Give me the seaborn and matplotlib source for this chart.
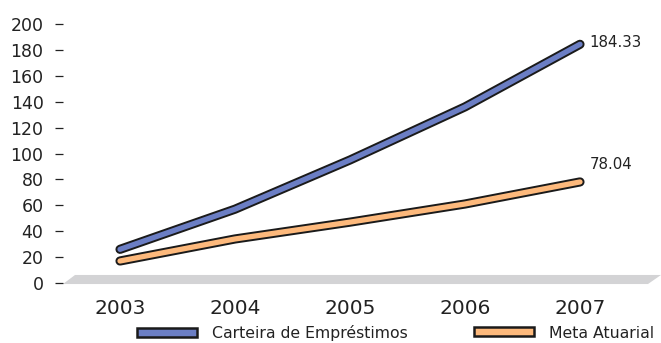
import matplotlib
matplotlib.use("Agg")
import matplotlib.pyplot as plt
import matplotlib.patheffects as pe
from matplotlib.patches import Patch, Polygon
import pandas as pd
import seaborn as sns

# Series values per year
years = [2003, 2004, 2005, 2006, 2007]
carteira = [26, 57, 95, 136, 184.33]
meta = [17, 34, 47, 61, 78.04]
series_names = ["Carteira de Empréstimos", "Meta Atuarial"]
series_colors = ["#6b7ec4", "#fdb97c"]
y_ticks = [0, 20, 40, 60, 80, 100, 120, 140, 160, 180, 200]

df = pd.DataFrame({
    "ano": years * 2,
    "valor": carteira + meta,
    "serie": [series_names[0]] * len(years) + [series_names[1]] * len(years),
})

sns.set_style("white")
plt.rcParams["font.family"] = ["DejaVu Sans"]
text_color = "#222222"

fig = plt.figure(figsize=(6.61, 3.43), dpi=100)
ax = fig.add_axes([63 / 661, 1 - 288 / 343, 1 - 63 / 661, (288 - 20) / 343])

ax.set_xlim(2002.5043, 2007.7043)
ax.set_ylim(-3.86, 203.09)

# grey floor of the pseudo-3D plot area
floor = Polygon([(2002.5043, -0.8), (2002.6087, 6.2), (2007.7043, 6.2), (2007.591, -0.8)],
                closed=True, facecolor="#d3d3d5", edgecolor="none", zorder=0)
ax.add_patch(floor)

sns.lineplot(data=df, x="ano", y="valor", hue="serie", palette=series_colors,
             linewidth=3.8, ax=ax, legend=False, sort=False, zorder=3)
for line in ax.get_lines():
    line.set_solid_capstyle("round")
    line.set_solid_joinstyle("round")
    line.set_path_effects([pe.Stroke(linewidth=6.6, foreground="#1a1a1a",
                                     capstyle="round", joinstyle="round"),
                           pe.Normal()])

# end-point value labels
ax.annotate(f"{carteira[-1]:.2f}", (years[-1], carteira[-1]), xytext=(7, 1.5),
            textcoords="offset points", ha="left", va="center",
            fontsize=10.8, color=text_color)
ax.annotate(f"{meta[-1]:.2f}", (years[-1], meta[-1]), xytext=(7, 12.5),
            textcoords="offset points", ha="left", va="center",
            fontsize=10.8, color=text_color)

ax.set_xticks(years)
ax.set_xticklabels([str(y) for y in years])
ax.set_yticks(y_ticks)
ax.tick_params(axis="x", length=0, pad=8.0, labelsize=14.5, labelcolor=text_color)
ax.tick_params(axis="y", left=True, direction="out", length=5.5, width=0.9,
               color=text_color, pad=8.5, labelsize=12.5, labelcolor=text_color)
for s in ax.spines.values():
    s.set_visible(False)
ax.set_xlabel("")
ax.set_ylabel("")

# legend: one entry per series, placed side by side under the axis
anchors = [137 / 661, 474 / 661]
for name, color, xa in zip(series_names, series_colors, anchors):
    handle = Patch(facecolor=color, edgecolor="#1a1a1a", linewidth=1.8)
    fig.legend(handles=[handle], labels=[name], loc="center left",
               bbox_to_anchor=(xa, 1 - 333 / 343), frameon=False,
               borderpad=0, borderaxespad=0, fontsize=11.3,
               handlelength=3.8, handleheight=0.5, handletextpad=1.0,
               labelcolor=text_color)

fig.savefig("out.png", dpi=100)
